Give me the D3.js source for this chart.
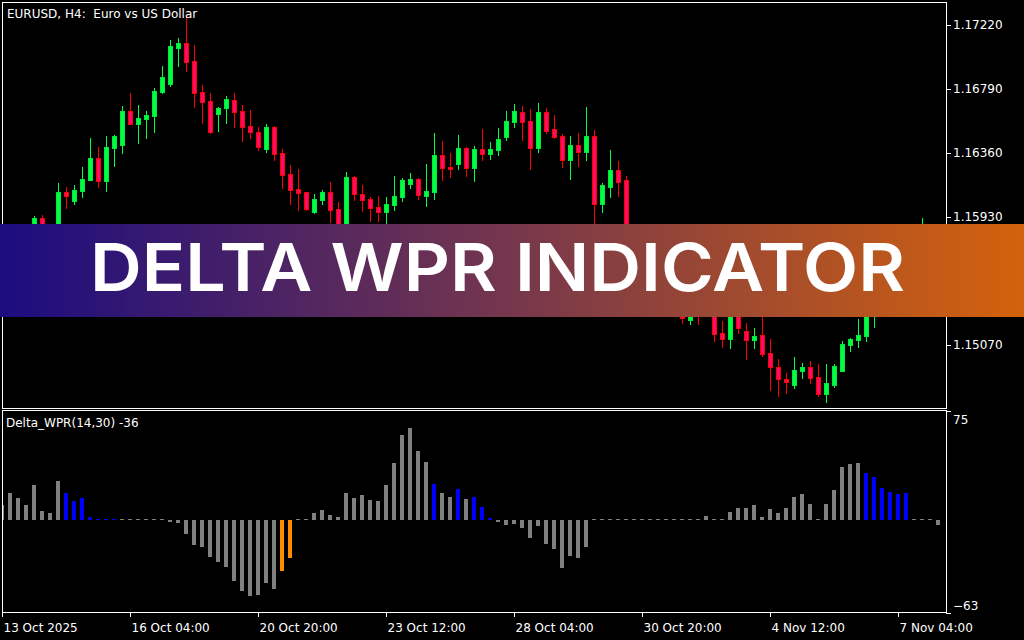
<!DOCTYPE html>
<html>
<head>
<meta charset="utf-8">
<script src="https://cdn.jsdelivr.net/npm/d3@7"></script>
<style>
  html, body { margin: 0; padding: 0; background: #000; }
  svg { display: block; }
  text { font-family: "DejaVu Sans", sans-serif; fill: #fff; }
</style>
</head>
<body>
<svg id="chart"></svg>
<script>
// EURUSD H4 candles, one value per bar
var opens = [1.15480,1.15520,1.15610,1.15580,1.15700,1.15921,1.15800,1.15830,1.16098,1.16037,
  1.16105,1.16178,1.16326,1.16172,1.16393,1.16414,1.16642,1.16555,1.16588,1.16608,
  1.16770,1.16824,1.17065,1.17099,1.16978,1.16770,1.16709,1.16622,1.16662,1.16716,
  1.16642,1.16541,1.16501,1.16387,1.16535,1.16360,1.16219,1.16118,1.16098,1.15963,
  1.16044,1.16098,1.15984,1.15820,1.16199,1.16084,1.16051,1.15997,1.15963,1.16010,
  1.16064,1.16152,1.16185,1.16071,1.16098,1.16346,1.16266,1.16286,1.16393,1.16259,
  1.16387,1.16353,1.16380,1.16467,1.16568,1.16635,1.16575,1.16393,1.16635,1.16521,
  1.16474,1.16313,1.16414,1.16367,1.16474,1.16017,1.16131,1.16246,1.16178,1.15708,
  1.15650,1.15690,1.15570,1.15450,1.15500,1.15330,1.15238,1.15330,1.15280,1.15340,
  1.15150,1.15110,1.15300,1.15164,1.15103,1.15137,1.15016,1.14922,1.14841,1.14801,
  1.14895,1.14922,1.14855,1.14740,1.14801,1.14895,1.15070,1.15103,1.15130,1.15290,
  1.15420,1.15470,1.15550,1.15510,1.15650,1.15720,1.15800,1.15740];
var highs = [1.15560,1.15640,1.15700,1.15720,1.15935,1.15941,1.15860,1.16158,1.16131,1.16145,
  1.16266,1.16461,1.16400,1.16474,1.16481,1.16676,1.16763,1.16682,1.16642,1.16797,
  1.16945,1.17119,1.17133,1.17280,1.17086,1.16817,1.16763,1.16669,1.16743,1.16763,
  1.16682,1.16649,1.16535,1.16555,1.16540,1.16387,1.16279,1.16252,1.16098,1.16084,
  1.16111,1.16165,1.16031,1.16232,1.16205,1.16145,1.16064,1.16071,1.16064,1.16205,
  1.16192,1.16225,1.16192,1.16286,1.16494,1.16441,1.16360,1.16481,1.16400,1.16407,
  1.16521,1.16434,1.16528,1.16642,1.16689,1.16676,1.16656,1.16696,1.16662,1.16615,
  1.16488,1.16474,1.16494,1.16669,1.16514,1.16158,1.16380,1.16306,1.16205,1.15790,
  1.15720,1.15760,1.15620,1.15540,1.15520,1.15400,1.15360,1.15400,1.15380,1.15400,
  1.15231,1.15330,1.15340,1.15217,1.15184,1.15280,1.15110,1.14976,1.14881,1.14989,
  1.14949,1.14962,1.14942,1.14942,1.14942,1.15097,1.15117,1.15244,1.15340,1.15480,
  1.15500,1.15580,1.15620,1.15680,1.15760,1.15923,1.15840,1.15800];
var lows = [1.15400,1.15490,1.15560,1.15550,1.15660,1.15760,1.15720,1.15800,1.15990,1.16017,
  1.16064,1.16178,1.16131,1.16105,1.16272,1.16360,1.16555,1.16427,1.16461,1.16501,
  1.16763,1.16810,1.16945,1.16911,1.16669,1.16561,1.16494,1.16508,1.16561,1.16535,
  1.16441,1.16461,1.16380,1.16367,1.16313,1.16125,1.16017,1.15977,1.15977,1.15957,
  1.16017,1.15896,1.15790,1.15800,1.16044,1.15970,1.15903,1.15903,1.15870,1.15977,
  1.16037,1.16125,1.16051,1.16004,1.16051,1.16178,1.16199,1.16252,1.16205,1.16172,
  1.16313,1.16320,1.16346,1.16447,1.16535,1.16447,1.16252,1.16367,1.16494,1.16461,
  1.16266,1.16185,1.16272,1.16313,1.15842,1.15963,1.16064,1.16071,1.15680,1.15600,
  1.15560,1.15540,1.15420,1.15400,1.15320,1.15217,1.15211,1.15211,1.15265,1.15097,
  1.15056,1.15049,1.15150,1.14976,1.15049,1.14996,1.14767,1.14727,1.14747,1.14781,
  1.14848,1.14814,1.14727,1.14687,1.14787,1.14895,1.15029,1.15056,1.15097,1.15191,
  1.15350,1.15440,1.15480,1.15500,1.15600,1.15690,1.15700,1.15700];
var closes = [1.15520,1.15610,1.15580,1.15690,1.15923,1.15800,1.15840,1.16098,1.16073,1.16111,
  1.16185,1.16326,1.16172,1.16400,1.16474,1.16642,1.16555,1.16595,1.16615,1.16777,
  1.16871,1.17079,1.17099,1.16971,1.16763,1.16703,1.16501,1.16662,1.16723,1.16635,
  1.16535,1.16501,1.16400,1.16535,1.16353,1.16212,1.16111,1.16091,1.15984,1.16051,
  1.16098,1.15977,1.15840,1.16199,1.16084,1.16044,1.15990,1.15963,1.16017,1.16071,
  1.16178,1.16185,1.16078,1.16105,1.16346,1.16259,1.16252,1.16393,1.16259,1.16387,
  1.16353,1.16387,1.16454,1.16575,1.16642,1.16568,1.16393,1.16635,1.16508,1.16467,
  1.16313,1.16414,1.16367,1.16474,1.16017,1.16145,1.16246,1.16165,1.15708,1.15650,
  1.15690,1.15570,1.15450,1.15500,1.15350,1.15251,1.15300,1.15280,1.15350,1.15144,
  1.15110,1.15300,1.15184,1.15103,1.15130,1.15009,1.14922,1.14841,1.14821,1.14902,
  1.14922,1.14848,1.14740,1.14814,1.14928,1.15076,1.15110,1.15137,1.15300,1.15420,
  1.15470,1.15550,1.15510,1.15650,1.15720,1.15800,1.15740,1.15760];

// Delta_WPR(14,30) histogram and its signal state (n = neutral, b = buy, s = sell)
var delta = [10.2,18.4,15,10.2,23.9,6.1,4.8,26.6,18.4,13,
  15,2,0.7,0.7,0.7,0.7,0.7,0.7,0.7,0.7,
  0.7,-1,-1.4,-8.9,-16.4,-17.8,-24.6,-28,-31.4,-41,
  -47.8,-51.3,-50.6,-42.4,-46.5,-34.2,-25.3,0.7,0.7,4.8,
  6.8,3.4,2,18.4,15,17,13.7,13,23.9,39,
  58,62.9,47.2,39.6,24.6,18.4,15.7,21.2,14.4,15.7,
  8.9,1.4,-0.7,-2.7,-2,-4.8,-11.6,-3.4,-15.7,-19.1,
  -32.1,-23.9,-25.3,-17.8,0.7,0.7,0.7,0.7,0.7,0.7,
  0.7,0.7,0.7,0.7,0.7,0.7,0.7,0.7,2.7,0.7,
  0.7,5.5,8.2,8.2,10.2,2,7.5,4.8,8.2,15.7,
  17.8,10.9,0.7,10.9,20.5,36.2,38.3,39,32.1,29.4,
  21.9,19.1,17.8,18.4,0.7,0.7,0.7,-2.7];
var signal = ["n","n","n","n","n","n","n","n","b","b",
  "b","b","b","b","b","n","n","n","n","n",
  "n","n","n","n","n","n","n","n","n","n",
  "n","n","n","n","n","s","s","n","n","n",
  "n","n","n","n","n","n","n","n","n","n",
  "n","n","n","n","b","n","n","b","n","b",
  "b","b","n","n","n","n","n","n","n","n",
  "n","n","n","n","n","n","n","n","n","n",
  "n","n","n","n","n","n","n","n","n","n",
  "n","n","n","n","n","n","n","n","n","n",
  "n","n","n","n","n","n","n","n","b","b",
  "b","b","b","b","n","n","n","n"];

// axis labels
var priceTicks = [1.17220, 1.16790, 1.16360, 1.15930, 1.15500, 1.15070];
var wprTicks = [75, -63];
var timeTicks = [0, 16, 32, 48, 64, 80, 96, 112];
var timeLabels = ["13 Oct 2025", "16 Oct 04:00", "20 Oct 20:00", "23 Oct 12:00",
  "28 Oct 04:00", "30 Oct 20:00", "4 Nov 12:00", "7 Nov 04:00"];

var width = 1024,
    height = 640;

var svg = d3.select("#chart")
    .attr("width", width)
    .attr("height", height);

svg.append("rect")
    .attr("width", width)
    .attr("height", height)
    .attr("fill", "#000");

// bar index -> pixel column, 8px per bar
var x = d3.scaleLinear().domain([0, 118]).range([2, 946]);
// price scale for main window
var y = d3.scaleLinear().domain([1.17220, 1.15070]).range([25, 345]);
// indicator window scale
var yw = d3.scaleLinear().domain([75, -63]).range([411, 613]);

var defs = svg.append("defs");
defs.append("clipPath").attr("id", "clipMain")
  .append("rect").attr("x", 3).attr("y", 3).attr("width", 943).attr("height", 405);
defs.append("clipPath").attr("id", "clipSub")
  .append("rect").attr("x", 3).attr("y", 411).attr("width", 943).attr("height", 201);

var idx = d3.range(opens.length);

// candles
var candles = svg.append("g")
    .attr("clip-path", "url(#clipMain)")
  .selectAll("g")
    .data(idx)
  .enter().append("g");

candles.append("line")
    .attr("x1", function(i) { return x(i) + 0.5; })
    .attr("x2", function(i) { return x(i) + 0.5; })
    .attr("y1", function(i) { return Math.round(y(highs[i])); })
    .attr("y2", function(i) { return Math.round(y(lows[i])) + 1; })
    .attr("stroke", function(i) { return closes[i] >= opens[i] ? "#00ff40" : "#ff0000"; })
    .attr("stroke-width", 1);

candles.append("rect")
    .attr("x", function(i) { return x(i) - 1.5; })
    .attr("width", 4)
    .attr("y", function(i) { return Math.round(y(Math.max(opens[i], closes[i]))) + 0.5; })
    .attr("height", function(i) {
      return Math.round(y(Math.min(opens[i], closes[i]))) - Math.round(y(Math.max(opens[i], closes[i])));
    })
    .attr("fill", function(i) { return closes[i] >= opens[i] ? "#00ff40" : "#ff0a64"; })
    .attr("stroke", function(i) { return closes[i] >= opens[i] ? "#00e83c" : "#ff0000"; })
    .attr("stroke-width", 1);

// indicator histogram
var zero = Math.floor(yw(0));
var colorBySignal = { n: "#808080", b: "#0000ff", s: "#ff8c00" };

svg.append("g")
    .attr("clip-path", "url(#clipSub)")
  .selectAll("rect")
    .data(idx)
  .enter().append("rect")
    .attr("x", function(i) { return x(i) - 2; })
    .attr("width", 4)
    .attr("y", function(i) { return delta[i] >= 0 ? Math.floor(yw(delta[i])) : zero; })
    .attr("height", function(i) {
      return delta[i] >= 0 ? zero - Math.floor(yw(delta[i])) : Math.round(yw(delta[i])) - zero;
    })
    .attr("fill", function(i) { return colorBySignal[signal[i]]; });

// window frames
svg.append("rect")
    .attr("x", 2.5).attr("y", 2.5).attr("width", 944).attr("height", 406)
    .attr("fill", "none").attr("stroke", "#fff");
svg.append("rect")
    .attr("x", 2.5).attr("y", 410.5).attr("width", 944).attr("height", 202)
    .attr("fill", "none").attr("stroke", "#fff");

// price axis
var priceAxis = svg.append("g")
    .attr("transform", "translate(946,0)")
    .call(d3.axisRight(y).tickValues(priceTicks).tickFormat(d3.format(".5f"))
      .tickSize(5).tickSizeOuter(0).tickPadding(2));
priceAxis.select(".domain").remove();

// indicator axis
var wprAxis = svg.append("g")
    .attr("transform", "translate(946,0)")
    .call(d3.axisRight(yw).tickValues(wprTicks).tickFormat(d3.format("d"))
      .tickSize(5).tickSizeOuter(0).tickPadding(2));
wprAxis.select(".domain").remove();
wprAxis.selectAll("text")
    .attr("dy", function(d) { return d > 0 ? "1.03em" : "-0.3em"; });

// time axis
var timeAxis = svg.append("g")
    .attr("transform", "translate(0,612)")
    .call(d3.axisBottom(x).tickValues(timeTicks)
      .tickFormat(function(d, i) { return timeLabels[i]; })
      .tickSize(5).tickSizeOuter(0).tickPadding(6));
timeAxis.select(".domain").remove();
timeAxis.selectAll("text")
    .attr("text-anchor", "start")
    .attr("x", 1);

svg.selectAll(".tick line").attr("stroke", "#fff");
svg.selectAll(".tick text")
    .attr("fill", "#fff")
    .style("font-family", "DejaVu Sans, sans-serif")
    .style("font-size", "12px");

// window titles
svg.append("text")
    .attr("x", 7).attr("y", 18)
    .style("font-size", "12px")
    .style("white-space", "pre")
    .text("EURUSD, H4:  Euro vs US Dollar");
svg.append("text")
    .attr("x", 6).attr("y", 427)
    .style("font-size", "12px")
    .text("Delta_WPR(14,30) -36");

// banner
var grad = defs.append("linearGradient").attr("id", "bannerGrad")
    .attr("x1", "0%").attr("x2", "100%").attr("y1", "0%").attr("y2", "0%");
grad.append("stop").attr("offset", "0%").attr("stop-color", "#1b0c80");
grad.append("stop").attr("offset", "50%").attr("stop-color", "#76374c");
grad.append("stop").attr("offset", "100%").attr("stop-color", "#d4620c");

svg.append("rect")
    .attr("x", 0).attr("y", 224).attr("width", width).attr("height", 93)
    .attr("fill", "url(#bannerGrad)");

svg.append("text")
    .attr("x", 90).attr("y", 291)
    .attr("textLength", 815)
    .attr("lengthAdjust", "spacingAndGlyphs")
    .style("font-family", "Inter, sans-serif")
    .style("font-weight", 600)
    .style("font-size", "66px")
    .text("DELTA WPR INDICATOR");
</script>
</body>
</html>
